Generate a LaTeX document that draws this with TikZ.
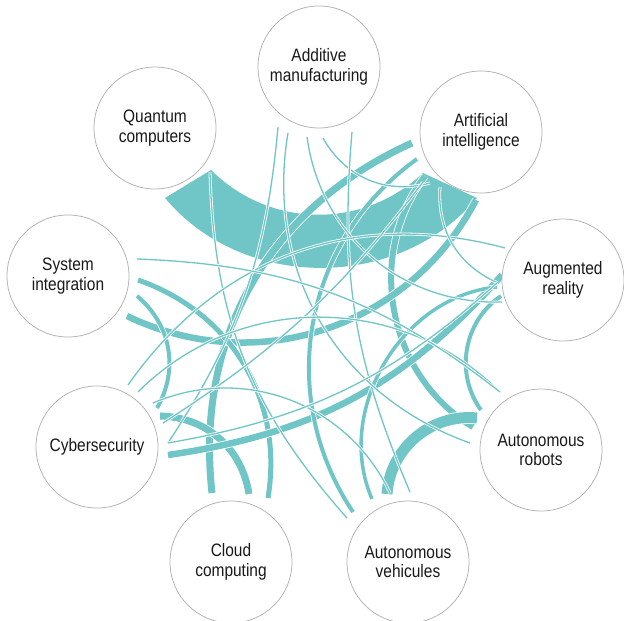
\documentclass[tikz,border=0pt]{standalone}
\usepackage{fontspec}
\setmainfont[FakeStretch=0.86]{Liberation Sans}
\definecolor{tl}{RGB}{112,198,198}
\definecolor{ring}{RGB}{178,178,178}
\definecolor{txt}{RGB}{25,25,25}
\newcommand\chd[4]{%
  \draw[white, line width=#1+1.6pt] #2 to[#3] #4;
  \draw[tl, line width=#1] #2 to[#3] #4;}
\begin{document}
\begin{tikzpicture}[x=1pt,y=-1pt,
  topic/.style={circle, draw=ring, line width=0.75pt, fill=white, minimum size=122pt,
    inner sep=0pt, align=center, text=txt, font=\fontsize{18}{19.5}\selectfont}]
\useasboundingbox (0,0) rectangle (624,621);
% big band Quantum -- AI
\fill[tl] (165,198) to[bend right=50] (477,198) -- (423,173) to[bend left=44] (211,170) -- cycle;
% thick and medium chords
\chd{7pt}{(412,143)}{bend right=36}{(212,493)}
\chd{6pt}{(425,176)}{bend right=48}{(473,427)}
\chd{6.5pt}{(127,316)}{bend right=44}{(476,200)}
\chd{5pt}{(138,280)}{bend left=40}{(268,498)}
\chd{4pt}{(137,296)}{bend left=40}{(157,408)}
\chd{7pt}{(160,416)}{bend left=40}{(249,494)}
\chd{6.5pt}{(168,455)}{bend right=20}{(502,275)}
\chd{4pt}{(501,296)}{bend right=46}{(481,410)}
\chd{11pt}{(477,418)}{bend right=46}{(387,494)}
\chd{4pt}{(417,159)}{bend right=44}{(353,512)}
\chd{3.5pt}{(497,287)}{bend right=54}{(372,499)}
% thin chords
\chd{1.3pt}{(323,138)}{bend right=38}{(430,183)}
\chd{1.3pt}{(352,132)}{bend right=14}{(410,492)}
\chd{1.3pt}{(210,172)}{bend right=20}{(347,518)}
\chd{1.3pt}{(278,127)}{bend left=14}{(168,443)}
\chd{1.3pt}{(288,133)}{bend right=40}{(470,443)}
\chd{1.3pt}{(307,137)}{bend right=42}{(502,302)}
\chd{1.3pt}{(128,385)}{bend left=35}{(505,248)}
\chd{1.3pt}{(163,423)}{bend right=10}{(423,182)}
\chd{1.3pt}{(138,392)}{bend left=45}{(500,392)}
\chd{1.3pt}{(137,259)}{bend left=18}{(500,392)}
\chd{1.3pt}{(153,403)}{bend left=44}{(390,493)}
\chd{1.3pt}{(440,187)}{bend right=35}{(498,283)}
\chd{1.3pt}{(168,443)}{bend right=16}{(497,283)}
% topic circles
\node[topic] (add) at (319,67)  {Additive\\manufacturing};
\node[topic] (ai)  at (481,132) {Artificial\\intelligence};
\node[topic] (ar)  at (563,280) {Augmented\\reality};
\node[topic] (rob) at (541,450) {Autonomous\\robots};
\node[topic] (veh) at (408,562) {Autonomous\\vehicules};
\node[topic] (cld) at (231,562) {Cloud\\computing};
\node[topic] (cyb) at (97,447)  {Cybersecurity};
\node[topic] (sys) at (68,276)  {System\\integration};
\node[topic] (qua) at (155,128) {Quantum\\computers};
\end{tikzpicture}
\end{document}
